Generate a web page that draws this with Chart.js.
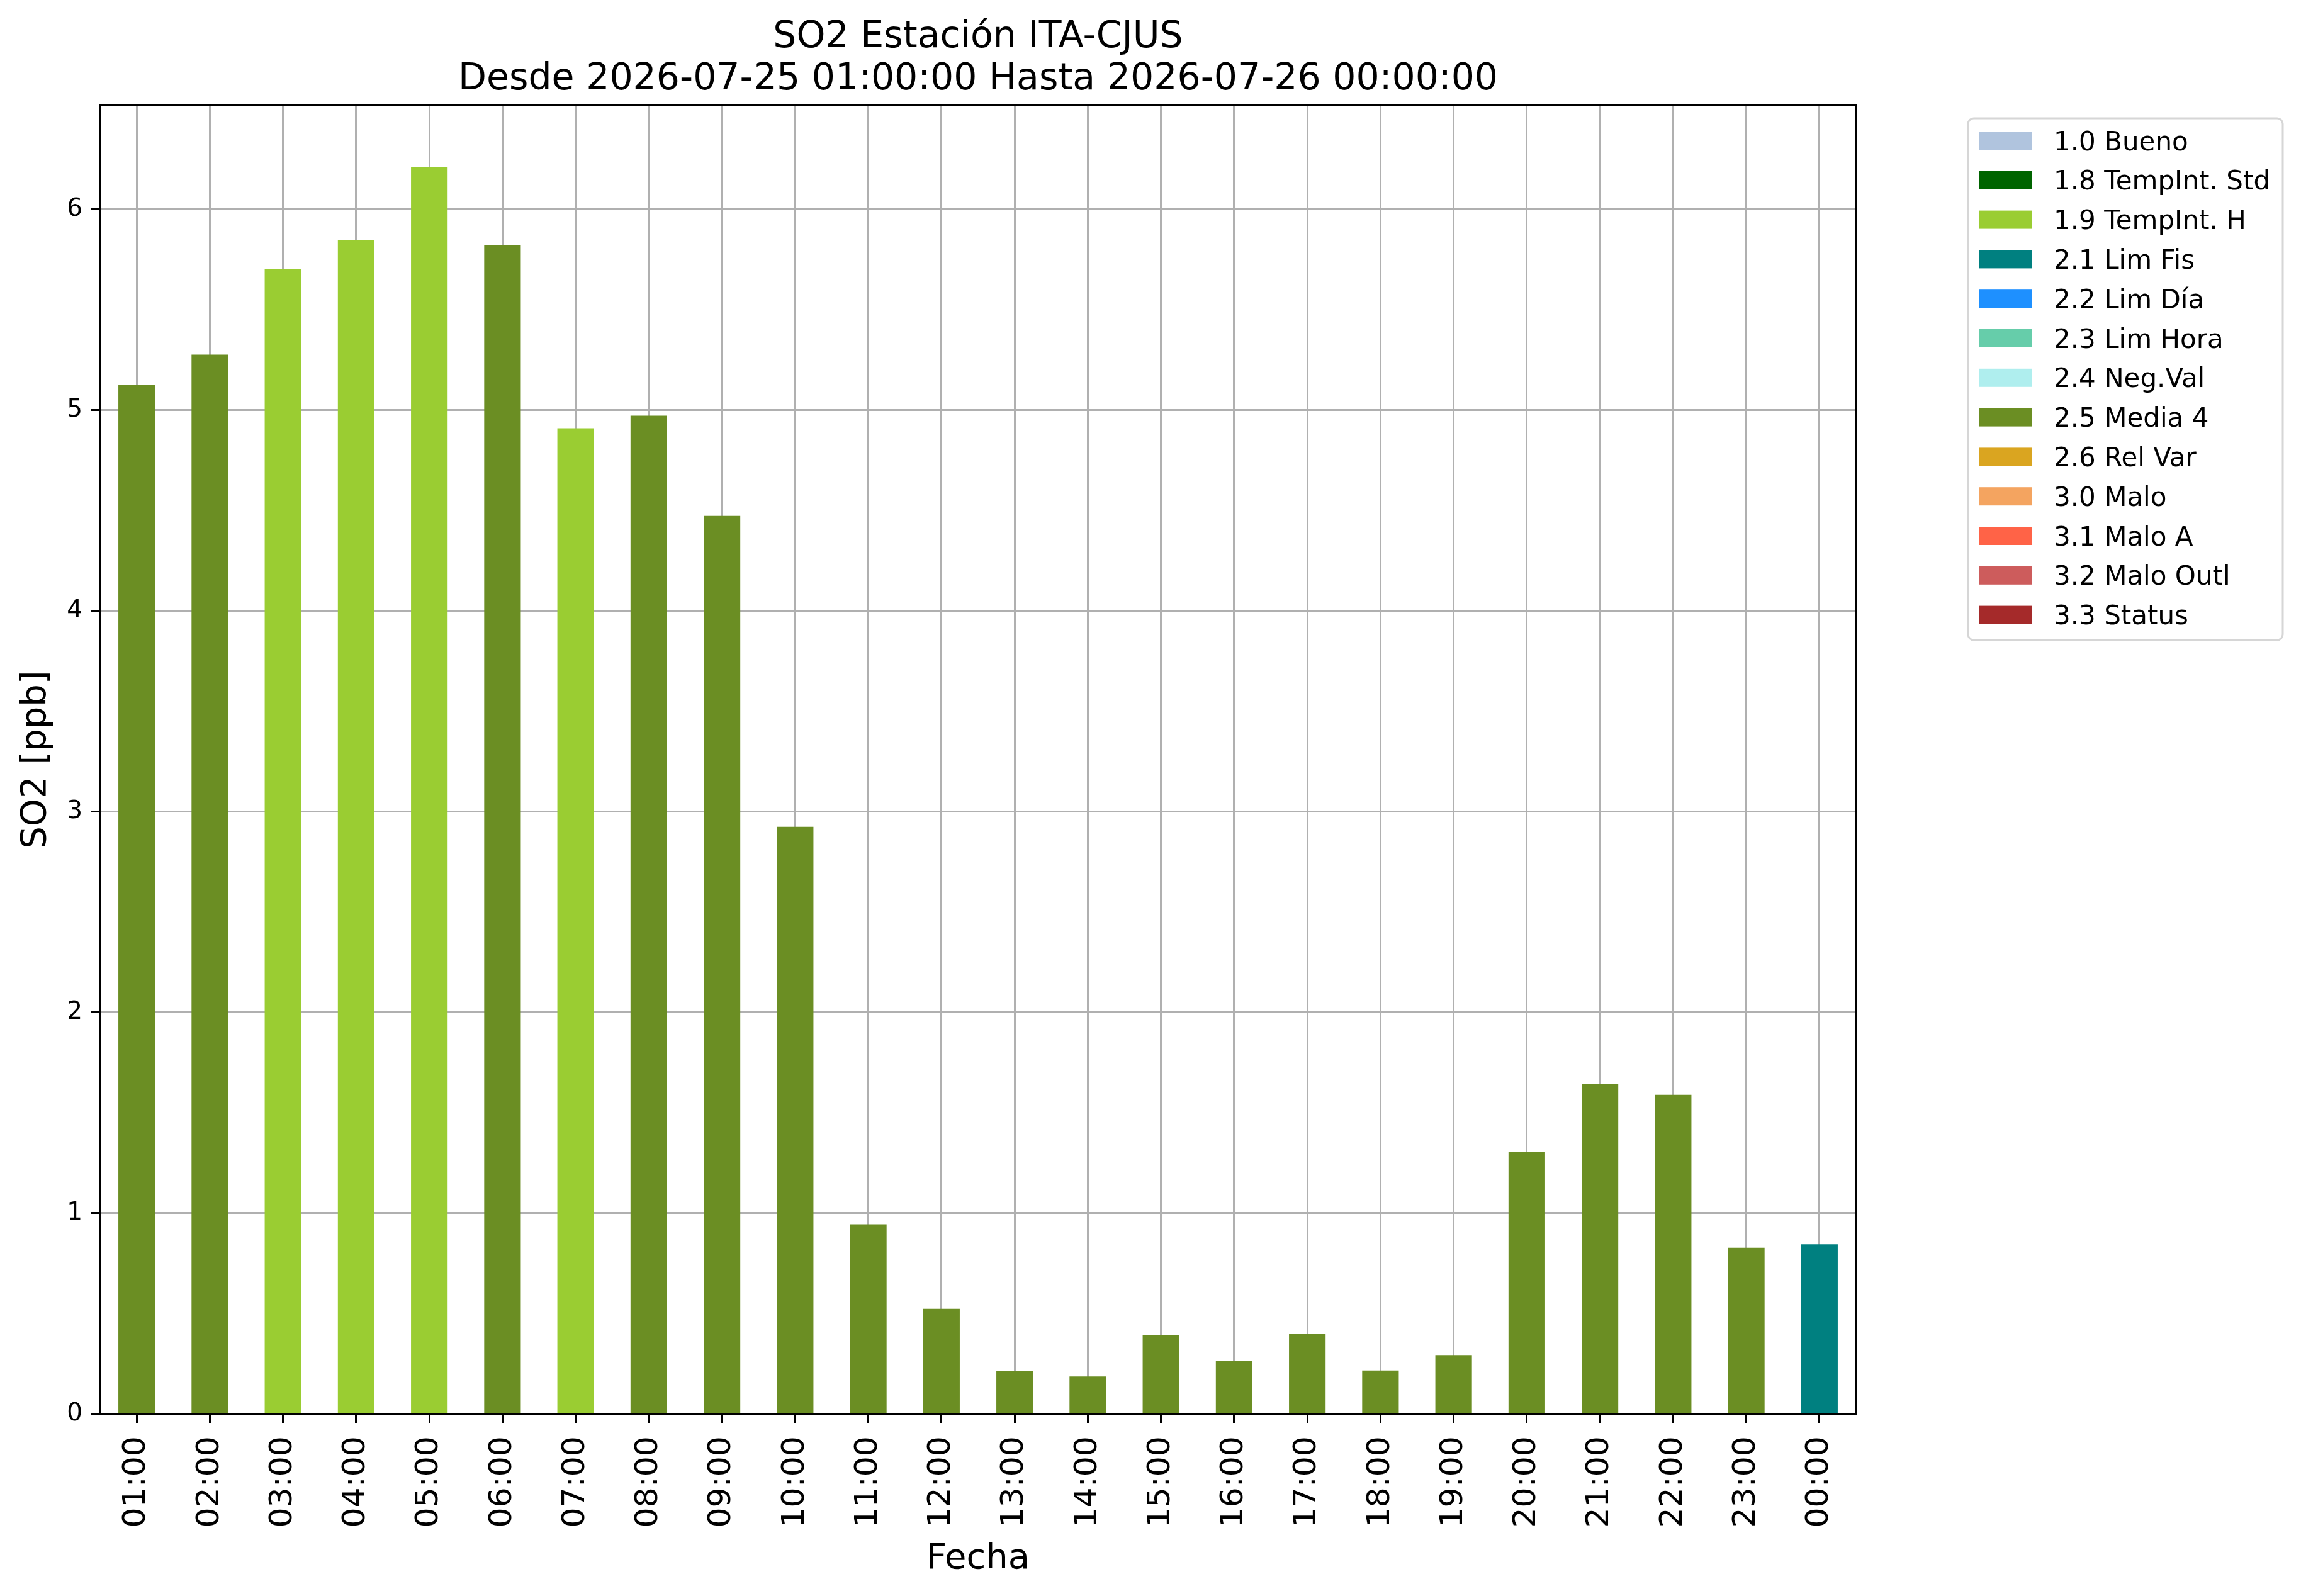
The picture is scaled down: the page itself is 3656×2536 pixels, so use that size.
<!DOCTYPE html>
<html>
<head>
<meta charset="utf-8">
<script src="https://cdn.jsdelivr.net/npm/chart.js@4.4.1/dist/chart.umd.min.js"></script>
<style>
  html, body { margin: 0; padding: 0; background: #fff; }
  canvas { display: block; }
</style>
</head>
<body>
<canvas id="so2Chart" width="3656" height="2536"></canvas>
<script>
var horas = ['01:00', '02:00', '03:00', '04:00', '05:00', '06:00', '07:00', '08:00',
             '09:00', '10:00', '11:00', '12:00', '13:00', '14:00', '15:00', '16:00',
             '17:00', '18:00', '19:00', '20:00', '21:00', '22:00', '23:00', '00:00']

var so2Valores = [5.125, 5.276, 5.701, 5.845, 6.208, 5.821, 4.909, 4.972,
                  4.473, 2.925, 0.945, 0.524, 0.213, 0.187, 0.395, 0.264,
                  0.399, 0.217, 0.294, 1.305, 1.644, 1.590, 0.828, 0.845]

var so2Flags = ['2.5', '2.5', '1.9', '1.9', '1.9', '2.5', '1.9', '2.5',
                '2.5', '2.5', '2.5', '2.5', '2.5', '2.5', '2.5', '2.5',
                '2.5', '2.5', '2.5', '2.5', '2.5', '2.5', '2.5', '2.1']

var flagCodigos = ['1.0', '1.8', '1.9', '2.1', '2.2', '2.3', '2.4', '2.5', '2.6', '3.0', '3.1', '3.2', '3.3']
var flagNombres = ['1.0 Bueno', '1.8 TempInt. Std', '1.9 TempInt. H', '2.1 Lim Fis', '2.2 Lim Día',
                   '2.3 Lim Hora', '2.4 Neg.Val', '2.5 Media 4', '2.6 Rel Var', '3.0 Malo',
                   '3.1 Malo A', '3.2 Malo Outl', '3.3 Status']
var flagColores = ['#b0c4de', '#006400', '#9acd32', '#008080', '#1e90ff', '#66cdaa', '#afeeee',
                   '#6b8e23', '#daa520', '#f4a460', '#ff6347', '#cd5c5c', '#a52a2a']

var fuente = 'DejaVu Sans'

// one dataset per flag, value only where that hour carries the flag
var datasets = flagCodigos.map(function (code, k) {
  return {
    label: flagNombres[k],
    backgroundColor: flagColores[k],
    borderWidth: 0,
    data: so2Valores.map(function (v, i) { return so2Flags[i] === code ? v : null }),
    barPercentage: 0.5,
    categoryPercentage: 1.0
  }
})

// white background + spines on all four sides
var marcoPlugin = {
  id: 'marco',
  beforeDraw: function (chart) {
    var ctx = chart.ctx
    ctx.save()
    ctx.fillStyle = '#ffffff'
    ctx.fillRect(0, 0, chart.width, chart.height)
    ctx.restore()
  },
  afterDraw: function (chart) {
    var ctx = chart.ctx, a = chart.chartArea
    ctx.save()
    ctx.strokeStyle = '#000000'
    ctx.lineWidth = 3
    ctx.strokeRect(a.left, a.top, a.right - a.left, a.bottom - a.top)
    ctx.restore()
  }
}

// matplotlib style legend outside the axes, upper right
var leyendaPlugin = {
  id: 'leyenda',
  afterDraw: function (chart) {
    var ctx = chart.ctx
    var x0 = 3127, y0 = 188, w = 500, h = 829
    var fila = 62.8, yc0 = 223.5
    ctx.save()
    ctx.beginPath()
    ctx.roundRect(x0, y0, w, h, 9)
    ctx.fillStyle = 'rgba(255,255,255,0.8)'
    ctx.fill()
    ctx.lineWidth = 3
    ctx.strokeStyle = '#d6d6d6'
    ctx.stroke()
    ctx.font = '42px "' + fuente + '"'
    ctx.textBaseline = 'alphabetic'
    ctx.textAlign = 'left'
    for (var k = 0; k < flagNombres.length; k++) {
      var yc = yc0 + k * fila
      ctx.fillStyle = flagColores[k]
      ctx.fillRect(3145, yc - 14.5, 83, 29)
      ctx.fillStyle = '#000000'
      ctx.fillText(flagNombres[k], 3263, yc + 15)
    }
    ctx.restore()
  }
}

var ctxSo2 = document.getElementById('so2Chart').getContext('2d')
var so2Chart = new Chart(ctxSo2, {
  type: 'bar',
  data: {
    labels: horas,
    datasets: datasets
  },
  options: {
    responsive: false,
    animation: false,
    devicePixelRatio: 1,
    layout: { padding: { left: 0, right: 707, top: 0, bottom: 0 } },
    plugins: {
      legend: { display: false },
      tooltip: { enabled: false },
      title: {
        display: true,
        fullSize: false,
        text: ['SO2 Estación ITA-CJUS', 'Desde 2026-07-25 01:00:00 Hasta 2026-07-26 00:00:00'],
        color: '#000000',
        font: { family: fuente, size: 58.5, weight: 'normal', lineHeight: 1.145 },
        padding: { top: 26, bottom: 7 }
      }
    },
    scales: {
      x: {
        stacked: true,
        offset: true,
        z: 1,
        afterFit: function (s) { s.height = 289 },
        grid: {
          offset: false,
          color: '#b0b0b0',
          lineWidth: 3,
          drawTicks: true,
          tickLength: 14,
          tickColor: '#000000',
          tickWidth: 3
        },
        border: { display: true, color: '#000000', width: 3 },
        ticks: {
          autoSkip: false,
          minRotation: 90,
          maxRotation: 90,
          padding: 21,
          color: '#000000',
          font: { family: fuente, size: 50.5 }
        },
        title: {
          display: true,
          text: 'Fecha',
          color: '#000000',
          font: { family: fuente, size: 56 },
          padding: { top: 0, bottom: 25 }
        }
      },
      y: {
        stacked: true,
        min: 0,
        max: Math.max.apply(null, so2Valores) * 1.05,
        z: 1,
        afterFit: function (s) { s.width = 159 },
        grid: {
          color: '#b0b0b0',
          lineWidth: 3,
          drawTicks: true,
          tickLength: 14,
          tickColor: '#000000',
          tickWidth: 3
        },
        border: { display: true, color: '#000000', width: 3 },
        ticks: {
          stepSize: 1,
          includeBounds: false,
          padding: 14,
          color: '#000000',
          font: { family: fuente, size: 39 }
        },
        title: {
          display: true,
          text: 'SO2 [ppb]',
          color: '#000000',
          font: { family: fuente, size: 56 },
          padding: { top: 24, bottom: 0 }
        }
      }
    }
  },
  plugins: [marcoPlugin, leyendaPlugin]
})
</script>
</body>
</html>
